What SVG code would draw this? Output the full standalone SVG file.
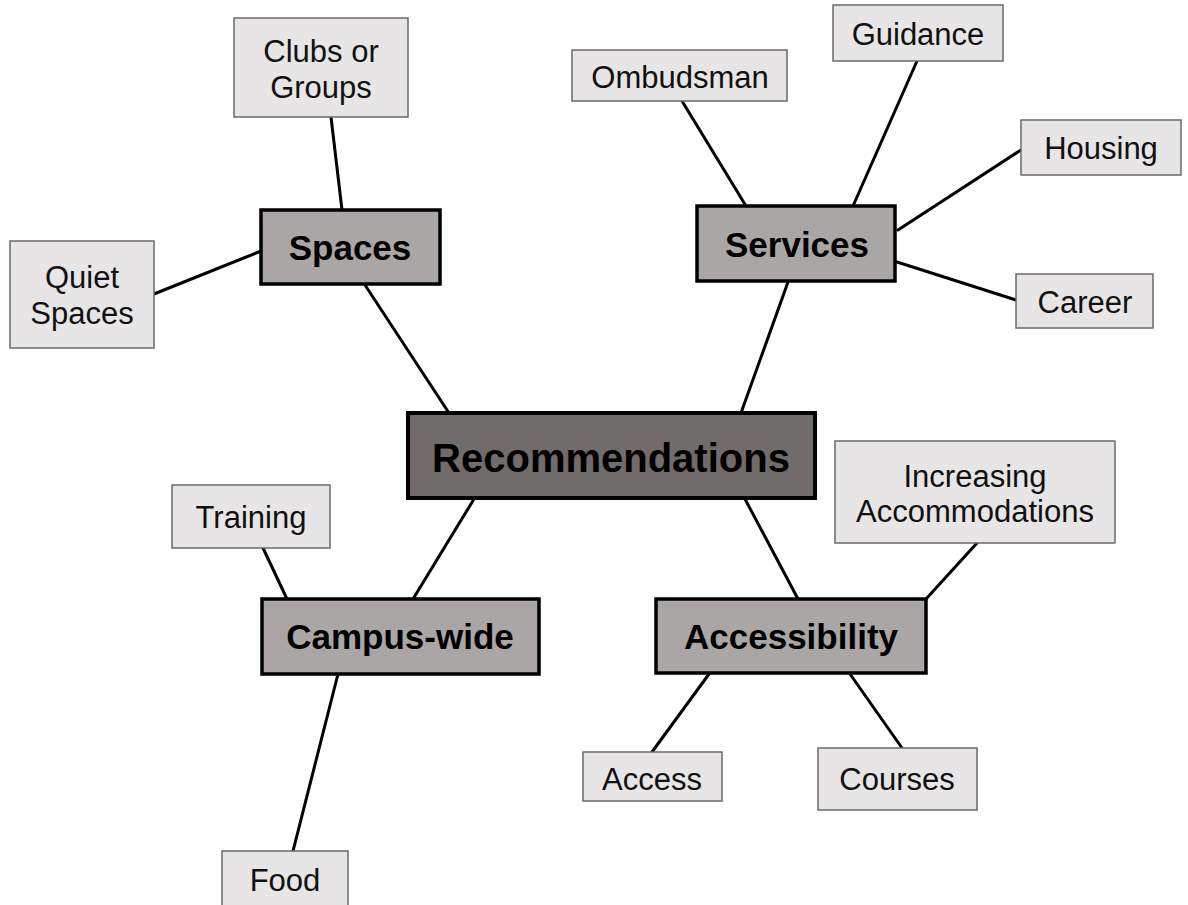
<svg xmlns="http://www.w3.org/2000/svg" width="1188" height="905" viewBox="0 0 1188 905">
  <style>
    .leaf rect { fill: #e7e5e5; stroke: #6a6a6a; stroke-width: 1.5; }
    .leaf text { font-family: "Liberation Sans", Arial, sans-serif; font-size: 31px; fill: #111; text-anchor: middle; }
    .mid rect { fill: #aaa6a6; stroke: #000; stroke-width: 3.5; }
    .mid text { font-family: "Liberation Sans", Arial, sans-serif; font-size: 35px; font-weight: bold; fill: #000; text-anchor: middle; }
    .hub rect { fill: #716b6b; stroke: #000; stroke-width: 4; }
    .hub text { font-family: "Liberation Sans", Arial, sans-serif; font-size: 40px; font-weight: bold; fill: #000; text-anchor: middle; }
    .links line { stroke: #000; stroke-width: 3; stroke-linecap: round; }
  </style>
  <rect width="1188" height="905" fill="#ffffff"/>

  <g class="links" id="connectors">
    <line x1="331" y1="117" x2="342" y2="210"/>
    <line x1="154" y1="294" x2="261" y2="251"/>
    <line x1="365" y1="285" x2="449" y2="413"/>
    <line x1="682" y1="101" x2="746" y2="206"/>
    <line x1="917" y1="61" x2="853" y2="206"/>
    <line x1="1024" y1="148" x2="898" y2="230"/>
    <line x1="1016" y1="300" x2="897" y2="262"/>
    <line x1="788" y1="282" x2="741" y2="413"/>
    <line x1="474" y1="499" x2="413" y2="599"/>
    <line x1="263" y1="548" x2="287" y2="599"/>
    <line x1="338" y1="674" x2="293" y2="851"/>
    <line x1="745" y1="499" x2="798" y2="599"/>
    <line x1="977" y1="543" x2="926" y2="599"/>
    <line x1="709" y1="674" x2="652" y2="752"/>
    <line x1="850" y1="674" x2="902" y2="748"/>
  </g>

  <g class="hub" id="recommendations">
    <rect x="408" y="413" width="407" height="85"/>
    <text x="611" y="472">Recommendations</text>
  </g>

  <g class="mid" id="spaces">
    <rect x="261" y="210" width="179" height="74"/>
    <text x="350" y="260">Spaces</text>
  </g>
  <g class="mid" id="services">
    <rect x="697" y="206" width="198" height="75"/>
    <text x="797" y="257">Services</text>
  </g>
  <g class="mid" id="campus-wide">
    <rect x="262" y="599" width="277" height="75"/>
    <text x="400" y="649">Campus-wide</text>
  </g>
  <g class="mid" id="accessibility">
    <rect x="656" y="599" width="270" height="74"/>
    <text x="791" y="649">Accessibility</text>
  </g>

  <g class="leaf" id="clubs-or-groups">
    <rect x="234" y="18" width="174" height="99"/>
    <text x="321" y="62">Clubs or</text>
    <text x="321" y="98">Groups</text>
  </g>
  <g class="leaf" id="quiet-spaces">
    <rect x="10" y="241" width="144" height="107"/>
    <text x="82" y="288">Quiet</text>
    <text x="82" y="324">Spaces</text>
  </g>
  <g class="leaf" id="ombudsman">
    <rect x="572" y="50" width="215" height="51"/>
    <text x="680" y="88">Ombudsman</text>
  </g>
  <g class="leaf" id="guidance">
    <rect x="833" y="5" width="170" height="56"/>
    <text x="918" y="45">Guidance</text>
  </g>
  <g class="leaf" id="housing">
    <rect x="1021" y="120" width="160" height="55"/>
    <text x="1101" y="159">Housing</text>
  </g>
  <g class="leaf" id="career">
    <rect x="1016" y="274" width="137" height="54"/>
    <text x="1085" y="313">Career</text>
  </g>
  <g class="leaf" id="increasing-accommodations">
    <rect x="835" y="441" width="280" height="102"/>
    <text x="975" y="487">Increasing</text>
    <text x="975" y="522">Accommodations</text>
  </g>
  <g class="leaf" id="training">
    <rect x="172" y="485" width="158" height="63"/>
    <text x="251" y="528">Training</text>
  </g>
  <g class="leaf" id="access">
    <rect x="583" y="752" width="139" height="49"/>
    <text x="652" y="790">Access</text>
  </g>
  <g class="leaf" id="courses">
    <rect x="818" y="748" width="159" height="62"/>
    <text x="897" y="790">Courses</text>
  </g>
  <g class="leaf" id="food">
    <rect x="222" y="851" width="126" height="56"/>
    <text x="285" y="891">Food</text>
  </g>
</svg>
